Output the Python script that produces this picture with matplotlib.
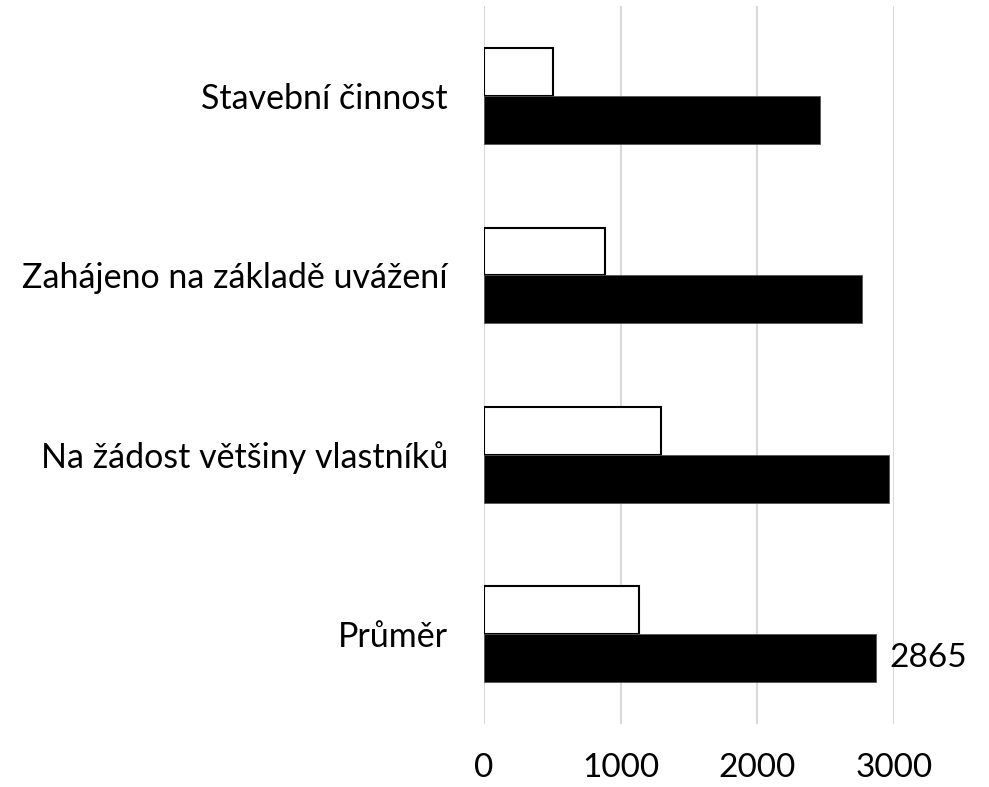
import numpy as np
import matplotlib.pyplot as plt

plt.rcParams['font.family'] = ['Lato', 'DejaVu Sans']

# data (bottom to top)
categories = ["Průměr", "Na žádost většiny vlastníků",
              "Zahájeno na základě uvážení", "Stavební činnost"]
white_vals = [1137, 1296, 883, 503]
black_vals = [2865, 2967, 2767, 2460]
x_ticks = [0, 1000, 2000, 3000]

fig = plt.figure(figsize=(9.89, 7.87), dpi=100)
ax = fig.add_axes([0.4894, 0.080, 0.4145, 0.912])

y = np.arange(len(categories))
h = 0.267
ax.barh(y + h / 2, white_vals, height=h, color="white",
        edgecolor="black", linewidth=1.5, zorder=3)
ax.barh(y - h / 2, black_vals, height=h, color="black",
        edgecolor="#555555", linewidth=0.6, zorder=3)

# only the average gets a value label
ax.text(black_vals[0] + 105, y[0] - h / 2, str(black_vals[0]),
        va="center", ha="left", fontsize=24)

ax.set_xlim(0, 3000)
ax.set_ylim(-0.5, len(categories) - 0.5)
ax.set_xticks(x_ticks)
ax.set_xticklabels([str(t) for t in x_ticks], fontsize=24)
ax.set_yticks(y)
ax.set_yticklabels(categories, fontsize=24.5)
ax.tick_params(axis="both", length=0)
ax.tick_params(axis="x", pad=21)
ax.tick_params(axis="y", pad=26)
ax.grid(axis="x", color="#d9d9d9", linewidth=1.5, zorder=0)
for s in ax.spines.values():
    s.set_visible(False)

fig.savefig("out.png", dpi=100)
